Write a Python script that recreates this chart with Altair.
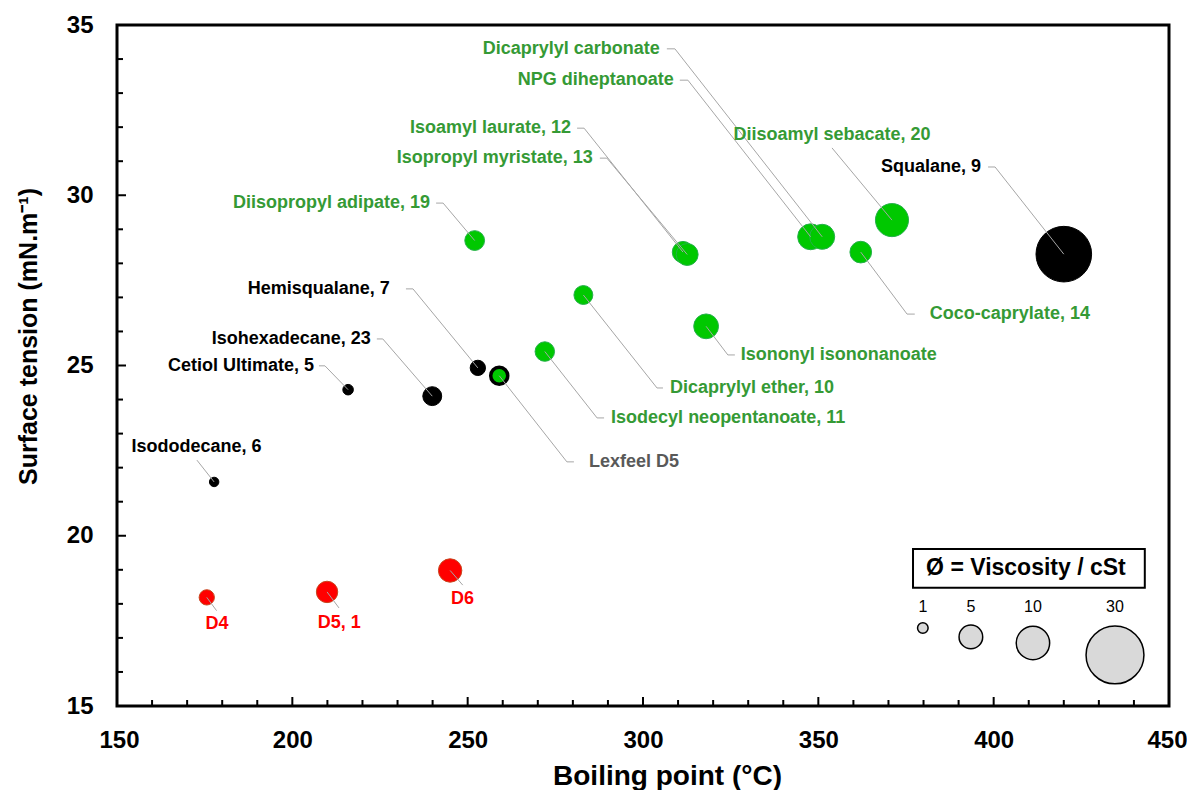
import altair as alt
import pandas as pd

# ---------------- data ----------------
labels = ["Isododecane, 6", "Cetiol Ultimate, 5", "Isohexadecane, 23", "Hemisqualane, 7",
          "Squalane, 9", "Lexfeel D5", "Isodecyl neopentanoate, 11", "Dicaprylyl ether, 10",
          "Diisopropyl adipate, 19", "Isoamyl laurate, 12", "Isopropyl myristate, 13",
          "Isononyl isononanoate", "NPG diheptanoate", "Dicaprylyl carbonate",
          "Diisoamyl sebacate, 20", "Coco-caprylate, 14", "D4", "D5, 1", "D6"]
boiling_point = [177.7, 215.9, 239.9, 252.9, 420.0, 259.0, 272.0, 283.0, 252.0, 311.4,
                 312.6, 318.0, 347.8, 351.1, 371.0, 362.1, 175.6, 209.9, 245.0]
surface_tension = [21.58, 24.29, 24.10, 24.93, 28.27, 24.70, 25.41, 27.07, 28.67, 28.33,
                   28.26, 26.15, 28.78, 28.78, 29.27, 28.33, 18.19, 18.35, 18.98]
viscosity = [0.8, 1.0, 3.2, 2.1, 27.7, 2.6, 3.4, 3.2, 3.5, 4.1,
             4.3, 5.5, 6.0, 5.6, 9.8, 4.2, 2.1, 4.1, 4.9]
family = ["hydrocarbon"] * 5 + ["blend"] + ["ester"] * 10 + ["silicone"] * 3

# label anchor (data units), alignment, leader start (next to text) and elbow
label_x = [172.7, 206.2, 222.4, 227.8, 396.4, 284.6, 290.9, 307.7, 239.25, 279.5,
           285.7, 327.9, 308.8, 304.8, 353.9, 381.8, 178.5, 213.4, 248.5]
label_y = [22.61, 24.99, 25.78, 27.25, 30.83, 22.17, 23.46, 24.34, 29.77, 31.97,
           31.09, 25.31, 33.38, 34.30, 31.77, 26.51, 17.41, 17.44, 18.14]
label_align = ["center", "right", "right", "right", "right", "left", "left", "left", "right", "right",
               "right", "left", "right", "right", "center", "left", "center", "center", "center"]
lead_start_x = [172.8, 207.6, 224.1, 232.4, 398.4, 280.3, 288.9, 305.7, 241.0, 281.2,
                287.7, 326.2, 310.5, 306.8, 353.9, 377.5, 178.4, 213.3, 248.6]
lead_start_y = [22.22, 24.99, 25.78, 27.25, 30.83, 22.17, 23.46, 24.34, 29.77, 31.97,
                31.09, 25.31, 33.38, 34.30, 31.39, 26.51, 17.80, 17.88, 18.55]
elbow_x = [172.8, 209.3, 225.8, 234.4, 400.4, 278.3, 286.9, 304.0, 243.0, 283.2,
           289.7, 324.2, 312.8, 309.1, 353.9, 375.3, 178.4, 213.3, 248.6]
elbow_y = lead_start_y

# size legend
legend_values = [1, 5, 10, 30]
legend_x = [379.8, 393.5, 411.2, 434.6]
legend_y = [17.29, 17.03, 16.85, 16.50]
legend_label_y = 17.91
legend_title = "Ø = Viscosity / cSt"

x_ticks = list(range(150, 451, 10))
y_ticks = list(range(15, 36, 1))

# ---------------- styles ----------------
FONT = "Liberation Sans"
fill_map = {"hydrocarbon": "#000000", "blend": "#00C800", "ester": "#00C800", "silicone": "#FF0000"}
stroke_map = {"hydrocarbon": "#000000", "blend": "#000000", "ester": "#25B04A", "silicone": "#C8461E"}
strokew_map = {"hydrocarbon": 1, "blend": 3.5, "ester": 1, "silicone": 1}
text_map = {"hydrocarbon": "#000000", "blend": "#595959", "ester": "#359A35", "silicone": "#FF0000"}

pts = pd.DataFrame(dict(label=labels, bp=boiling_point, st=surface_tension,
                        visc=viscosity, family=family))
pts["fillc"] = pts["family"].map(fill_map)
pts["strokec"] = pts["family"].map(stroke_map)
pts["sw"] = pts["family"].map(strokew_map)

lab = pd.DataFrame(dict(label=labels, lx=label_x, ly=label_y, anchor=label_align,
                        family=family))
lab["tc"] = lab["family"].map(text_map)

segs = []
for i in range(len(labels)):
    segs.append(dict(x=boiling_point[i], y=surface_tension[i], x2=elbow_x[i], y2=elbow_y[i]))
    if abs(elbow_x[i] - lead_start_x[i]) > 1e-9:
        segs.append(dict(x=elbow_x[i], y=elbow_y[i], x2=lead_start_x[i], y2=lead_start_y[i]))
seg = pd.DataFrame(segs)

W, H = 1052, 681
xs = alt.Scale(domain=[150, 450], nice=False, zero=False)
ys = alt.Scale(domain=[15, 35], nice=False, zero=False)
ss = alt.Scale(domain=[0, 30], range=[0, 3350])

x_axis = alt.Axis(values=list(range(150, 451, 50)), grid=False, ticks=False, domain=False,
                  tickSize=0, labelPadding=22, labelFont=FONT, labelFontSize=24,
                  labelFontWeight="bold", labelColor="black",
                  labelFlush=True, labelFlushOffset=18,
                  title="Boiling point (°C)", titleFont=FONT, titleFontSize=28,
                  titleFontWeight="bold", titleColor="black", titleX=550, titleY=78,
                  titleBaseline="alphabetic", titleAnchor="middle")
y_axis = alt.Axis(values=list(range(15, 36, 5)), grid=False, ticks=False, domain=False,
                  tickSize=0, labelPadding=24, labelFont=FONT, labelFontSize=24,
                  labelFontWeight="bold", labelColor="black", labelFlush=False,
                  title="Surface tension (mN.m⁻¹)", titleFont=FONT, titleFontSize=25,
                  titleFontWeight="bold", titleColor="black", titleX=-81, titleY=311,
                  titleAngle=-90, titleBaseline="alphabetic", titleAnchor="middle")

points = alt.Chart(pts).mark_circle(opacity=1).encode(
    x=alt.X("bp:Q", scale=xs, axis=x_axis),
    y=alt.Y("st:Q", scale=ys, axis=y_axis),
    size=alt.Size("visc:Q", scale=ss, legend=None),
    fill=alt.Fill("fillc:N", scale=None),
    stroke=alt.Stroke("strokec:N", scale=None),
    strokeWidth=alt.StrokeWidth("sw:Q", scale=None),
)

leaders = alt.Chart(seg).mark_rule(color="#A6A6A6", strokeWidth=1).encode(
    x="x:Q", y="y:Q", x2="x2:Q", y2="y2:Q")

text_layers = []
for al in ["left", "right", "center"]:
    text_layers.append(
        alt.Chart(lab[lab["anchor"] == al]).mark_text(
            align=al, baseline="middle", font=FONT, fontSize=18, fontWeight="bold"
        ).encode(x="lx:Q", y="ly:Q", text="label:N", color=alt.Color("tc:N", scale=None))
    )

ytk = pd.DataFrame({"v": y_ticks})
ytk["major"] = ytk["v"] % 5 == 0
xtk = pd.DataFrame({"v": x_ticks})
xtk["major"] = xtk["v"] % 50 == 0

ytick_major = alt.Chart(ytk[ytk["major"]]).mark_rule(color="black", strokeWidth=2).encode(
    y="v:Q", x=alt.value(0), x2=alt.value(9))
ytick_minor = alt.Chart(ytk[~ytk["major"]]).mark_rule(color="black", strokeWidth=2).encode(
    y="v:Q", x=alt.value(0), x2=alt.value(6))
xtick_major = alt.Chart(xtk[xtk["major"]]).mark_rule(color="black", strokeWidth=2).encode(
    x="v:Q", y=alt.value(H), y2=alt.value(H - 9))
xtick_minor = alt.Chart(xtk[~xtk["major"]]).mark_rule(color="black", strokeWidth=2).encode(
    x="v:Q", y=alt.value(H), y2=alt.value(H - 6))

# size legend
box = alt.Chart(pd.DataFrame({"x": [377.0], "x2": [443.1], "y": [18.47], "y2": [19.61]})).mark_rect(
    fill="white", stroke="black", strokeWidth=2).encode(x="x:Q", x2="x2:Q", y="y:Q", y2="y2:Q")
box_title = alt.Chart(pd.DataFrame({"x": [409.2], "y": [19.04], "t": [legend_title]})).mark_text(
    font=FONT, fontSize=23, fontWeight="bold", color="black", baseline="middle", align="center"
).encode(x="x:Q", y="y:Q", text="t:N")
leg = pd.DataFrame({"v": legend_values, "x": legend_x, "y": legend_y,
                    "ly": [legend_label_y] * 4})
leg["t"] = leg["v"].astype(str)
leg_circles = alt.Chart(leg).mark_circle(opacity=1, fill="#D9D9D9", stroke="black",
                                         strokeWidth=1.5).encode(
    x="x:Q", y="y:Q", size=alt.Size("v:Q", scale=ss, legend=None))
leg_labels = alt.Chart(leg).mark_text(font=FONT, fontSize=16, color="black",
                                      baseline="middle", align="center").encode(
    x="x:Q", y="ly:Q", text="t:N")

chart = alt.layer(
    points, leaders, *text_layers,
    ytick_major, ytick_minor, xtick_major, xtick_minor,
    box, box_title, leg_circles, leg_labels,
).properties(
    width=W, height=H,
    autosize=alt.AutoSizeParams(type="none"),
    padding={"left": 109, "top": 17, "right": 18, "bottom": 84},
).configure_view(
    stroke="black", strokeWidth=3, fill="white"
)

chart.save("out.html", embed_options={"renderer": "svg", "actions": False})
